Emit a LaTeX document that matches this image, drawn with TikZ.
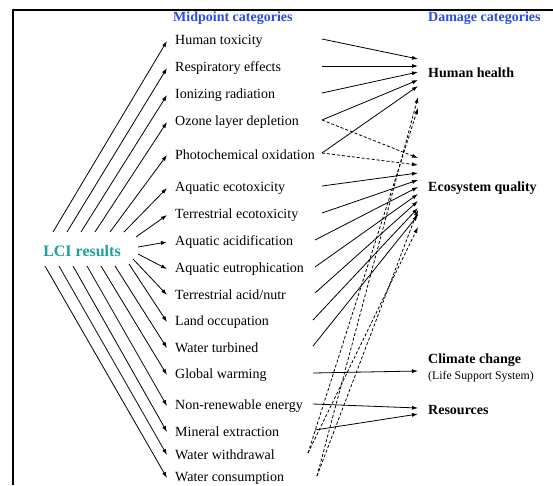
\documentclass[tikz,border=0pt]{standalone}
\usepackage{fontspec}
\setmainfont{Liberation Serif}
\usetikzlibrary{arrows.meta,positioning,calc}
\definecolor{hdrblue}{HTML}{2B4BE6}
\definecolor{lciteal}{HTML}{1E9E9E}
\tikzset{>={Latex[length=6pt,width=4pt]},mid/.style={anchor=west,inner xsep=8pt,inner ysep=2pt,yshift=-2pt,font=\fontsize{14}{16}\selectfont},dmg/.style={anchor=west,inner sep=2pt,font=\fontsize{14}{16}\selectfont\bfseries},hdr/.style={anchor=west,inner sep=2pt,text=hdrblue,font=\fontsize{14}{16}\selectfont\bfseries},arr/.style={->,line width=.8pt},darr/.style={->,line width=.8pt,dash pattern=on 3pt off 2pt}}

\begin{document}
\begin{tikzpicture}[x=1pt,y=-1pt]
\useasboundingbox (0,0) rectangle (553,485);
\draw[line width=1.4pt] (553,10) -- (13,10) -- (13,485);
\node[hdr] (mh) at (171,18) {Midpoint categories};
\node[hdr] (dh) at (426,18) {Damage categories};
\node[font=\fontsize{16}{18}\selectfont\bfseries,text=lciteal] (lci) at (82,251) {LCI results};
\foreach \i/\y/\txt/\lx/\ly/\ox in {1/39/{Human toxicity}/53/232/322,2/66/{Respiratory effects}/67/232/322,3/93/{Ionizing radiation}/81/232/322,4/120/{Ozone layer depletion}/95/232/322,5/153/{Photochemical oxidation}/110/232/322,6/186/{Aquatic ecotoxicity}/124/232/322,7/213/{Terrestrial ecotoxicity}/136/237/322,8/240/{Aquatic acidification}/138/247/315,9/267/{Aquatic eutrophication}/138/254/315,10/293/{Terrestrial acid/nutr}/133/259/315,11/320/{Land occupation}/129/264/313,12/346/{Water turbined}/115/266/313,13/373/{Global warming}/101/266/313,14/404/{Non-renewable energy}/87/266/313,15/430/{Mineral extraction}/73/266/315,16/453/{Water withdrawal}/59/266/308,17/476/{Water consumption}/45/266/317}{
  \node[mid] (m\i) at (167,\y) {\txt};
  \coordinate (s\i) at (\lx,\ly);
  \coordinate (o\i) at (\ox,\y);
  \draw[arr] (s\i) -- (m\i.west);
}
\node[dmg] (hh) at (426,73) {Human health};
\node[dmg] (eq) at (426,188) {Ecosystem quality};
\node[dmg] (cc) at (426,360) {Climate change};
\node[anchor=north west,inner sep=2pt,font=\fontsize{11.8}{13}\selectfont] (lss) at (cc.south west) {(Life Support System)};
\node[dmg] (res) at (426,410) {Resources};
\foreach \i/\dy in {1/14,2/7,3/1,4/-7,5/-13}
  \draw[arr] (o\i) -- ([xshift=-8pt,yshift=\dy pt]hh.west);
\foreach \i/\dy in {6/15,7/8,8/1,9/-6,10/-13,11/-20,12/-27}
  \draw[arr] (o\i) -- ([xshift=-8pt,yshift=\dy pt]eq.west);
\foreach \i/\dy in {4/30,5/23,16/-39,17/-22}
  \draw[darr] (o\i) -- ([xshift=-8pt,yshift=\dy pt]eq.west);
\foreach \i/\dy in {16/-35,17/-24}
  \draw[darr] (o\i) -- ([xshift=-8pt,yshift=\dy pt]hh.west);
\draw[arr] (o13) -- ([xshift=-8pt,yshift=-11pt]cc.west);
\draw[arr] (o14) -- ([xshift=-8pt,yshift=2pt]res.west);
\draw[arr] (o15) -- ([xshift=-8pt,yshift=-4pt]res.west);
\end{tikzpicture}
\end{document}
